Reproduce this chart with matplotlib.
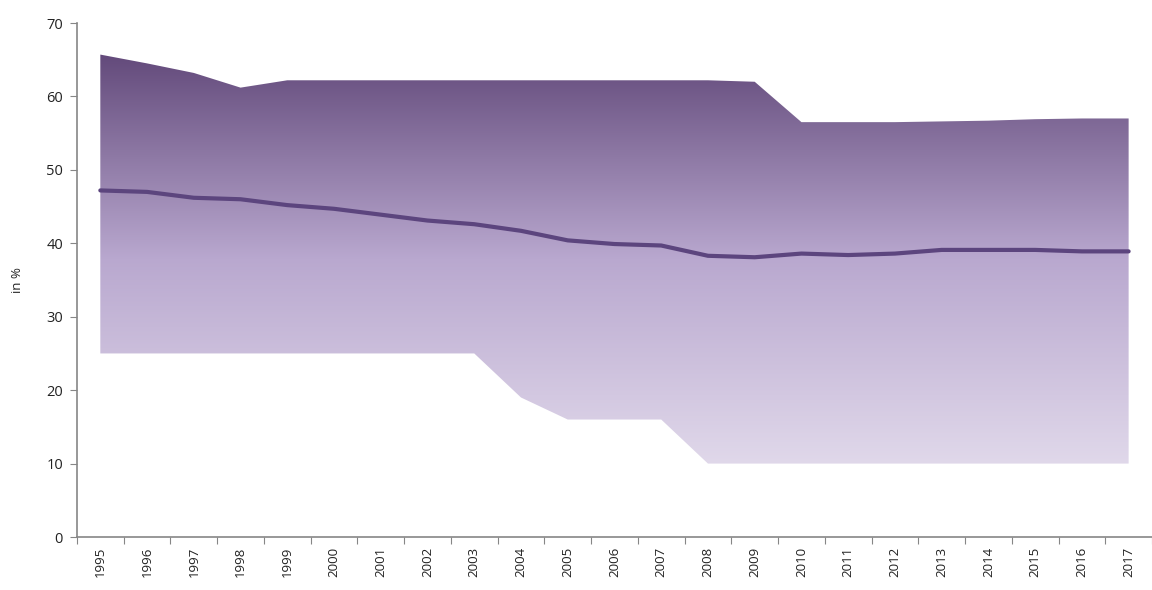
import numpy as np
import matplotlib
matplotlib.use('Agg')
import matplotlib.pyplot as plt
from matplotlib.colors import LinearSegmentedColormap

years = [str(y) for y in range(1995, 2018)]
upper = [65.7, 64.5, 63.2, 61.2, 62.2, 62.2, 62.2, 62.2, 62.2, 62.2, 62.2, 62.2,
         62.2, 62.2, 62.0, 56.5, 56.5, 56.5, 56.6, 56.7, 56.9, 57.0, 57.0]
lower = [25, 25, 25, 25, 25, 25, 25, 25, 25, 19, 16, 16,
         16, 10, 10, 10, 10, 10, 10, 10, 10, 10, 10]
mean = [47.2, 47.0, 46.2, 46.0, 45.2, 44.7, 43.9, 43.1, 42.6, 41.7, 40.4, 39.9,
        39.7, 38.3, 38.1, 38.6, 38.4, 38.6, 39.1, 39.1, 39.1, 38.9, 38.9]

plt.rcParams['font.family'] = ['Open Sans', 'DejaVu Sans']

fig = plt.figure(figsize=(11.52, 5.90), dpi=100)
ax = fig.add_axes([0.0668, 0.0898, 0.9332, 0.8712])

x = np.arange(len(years))

# band with vertical gradient
band = ax.fill_between(x, lower, upper, facecolor='none', edgecolor='none')
cmap = LinearSegmentedColormap.from_list('purp', ['#e0d8ea', '#b9a8cf', '#634a7b'])
grad = np.linspace(0, 1, 256).reshape(-1, 1)
img = ax.imshow(grad, cmap=cmap, origin='lower', aspect='auto',
                extent=[x[0], x[-1], min(lower), max(upper)], zorder=1)
img.set_clip_path(band.get_paths()[0], transform=ax.transData)

ax.plot(x, mean, color='#5c457e', lw=3, solid_capstyle='round',
        solid_joinstyle='round', zorder=3)

ax.set_xlim(-0.5, len(years) - 0.5)
ax.set_ylim(0, 70)
ax.set_yticks(range(0, 71, 10))
ax.set_xticks(np.arange(len(years) + 1) - 0.5, minor=False)
ax.set_xticklabels([])
ax.set_xticks(x, minor=True)
ax.set_xticklabels(years, minor=True, rotation=90, fontsize=9.5, color='#222222')
ax.tick_params(axis='x', which='minor', length=0, pad=7)
ax.tick_params(axis='x', which='major', length=5, color='#868686')
ax.tick_params(axis='y', length=5, color='#868686', labelsize=10.5,
               labelcolor='#222222', pad=5)
ax.set_ylabel('in %', fontsize=9.5, labelpad=16, color='#222222')

for s in ['top', 'right']:
    ax.spines[s].set_visible(False)
for s in ['left', 'bottom']:
    ax.spines[s].set_color('#868686')
    ax.spines[s].set_linewidth(1.2)

fig.savefig('out.png', dpi=100)
